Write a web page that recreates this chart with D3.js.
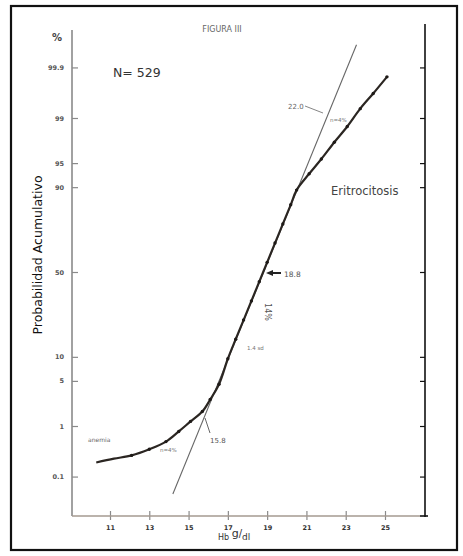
<!DOCTYPE html>
<html><head><meta charset="utf-8">
<script src="https://cdn.jsdelivr.net/npm/d3@7"></script>
<style>body{margin:0;background:#fff}svg{display:block}text{font-family:"DejaVu Sans",sans-serif}</style>
</head><body>
<script>
// ---- data ----
const xTicks = [11, 13, 15, 17, 19, 21, 23, 25];
const yTicks = [99.9, 99, 95, 90, 50, 10, 5, 1, 0.1];
const yTickLabels = ["99.9", "99", "95", "90", "50", "10", "5", "1", "0.1"];
// observed cumulative curve (Hb g/dl, cumulative %)
const curveHb  = [10.3, 11.2, 12.1, 13.0, 13.85, 14.5, 15.1, 15.7, 16.1, 16.55, 17.0, 17.4, 17.8, 18.2, 18.6, 19.0, 19.4, 19.8, 20.2, 20.5, 21.14, 21.76, 22.42, 23.08, 23.74, 24.4, 25.1];
const curvePct = [0.20, 0.24, 0.28, 0.37, 0.52, 0.80, 1.2, 1.75, 2.7, 4.5, 9.5, 15.5, 23.4, 33.1, 44.2, 55.8, 66.9, 76.6, 84.5, 89.2, 93.1, 95.6, 97.5, 98.6, 99.32, 99.65, 99.84];
// fitted normal line (probability paper straight line)
const fitHb  = [14.2, 23.55];
const fitPct = [0.04, 99.97];

// inverse normal CDF (probability-paper axis transform)
function probit(p){
  const a=[-39.69683028665376,220.9460984245205,-275.9285104469687,138.3577518672690,-30.66479806614716,2.506628277459239];
  const b=[-54.47609879822406,161.5858368580409,-155.6989798598866,66.80131188771972,-13.28068155288572];
  const c=[-0.007784894002430293,-0.3223964580411365,-2.400758277161838,-2.549732539343734,4.374664141464968,2.938163982698783];
  const d=[0.007784695709041462,0.3224671290700398,2.445134137142996,3.754408661907416];
  const pl=0.02425;let q,r;
  if(p<pl){q=Math.sqrt(-2*Math.log(p));return(((((c[0]*q+c[1])*q+c[2])*q+c[3])*q+c[4])*q+c[5])/((((d[0]*q+d[1])*q+d[2])*q+d[3])*q+1);}
  if(p>1-pl){q=Math.sqrt(-2*Math.log(1-p));return-(((((c[0]*q+c[1])*q+c[2])*q+c[3])*q+c[4])*q+c[5])/((((d[0]*q+d[1])*q+d[2])*q+d[3])*q+1);}
  q=p-0.5;r=q*q;return(((((a[0]*r+a[1])*r+a[2])*r+a[3])*r+a[4])*r+a[5])*q/(((((b[0]*r+b[1])*r+b[2])*r+b[3])*r+b[4])*r+1);
}

const W=463,H=556;
const svg=d3.select("body").append("svg").attr("width",W).attr("height",H);

// frame
svg.append("rect").attr("x",11).attr("y",6).attr("width",446).attr("height",544)
  .attr("fill","none").attr("stroke","#111").attr("stroke-width",2.2);

const x=d3.scaleLinear().domain([11,25]).range([110,385]);
const zScale=d3.scaleLinear().domain([-3,3]).range([470.6,73.4]);
const y=p=>zScale(probit(p/100));

const axisCol="#8a8a8a";
// left axis
const leftAx=svg.append("g").attr("transform","translate(72,0)");
leftAx.call(d3.axisRight(zScale).tickValues(yTicks.map(p=>probit(p/100))).tickSize(6).tickFormat((d,i)=>yTickLabels[i]));
leftAx.select(".domain").remove();
leftAx.selectAll(".tick line").attr("stroke",axisCol).attr("stroke-width",1.2);
leftAx.selectAll(".tick text").attr("x",-8).attr("text-anchor","end").attr("fill","#555").attr("font-size",6.5).attr("font-weight","bold");
svg.append("line").attr("x1",72).attr("x2",72).attr("y1",30).attr("y2",516).attr("stroke",axisCol).attr("stroke-width",1.6);

// right axis
const rightAx=svg.append("g").attr("transform","translate(425,0)");
rightAx.call(d3.axisLeft(zScale).tickValues(yTicks.map(p=>probit(p/100))).tickSize(5).tickFormat(""));
rightAx.select(".domain").remove();
rightAx.selectAll(".tick line").attr("stroke","#111").attr("stroke-width",1.2);
svg.append("line").attr("x1",425).attr("x2",425).attr("y1",24).attr("y2",517).attr("stroke","#111").attr("stroke-width",1.6);

// bottom axis
const xAx=svg.append("g").attr("transform","translate(0,516)");
xAx.call(d3.axisBottom(x).tickValues(xTicks).tickSize(0).tickPadding(9).tickFormat(d3.format("d")));
xAx.select(".domain").remove();
xAx.selectAll(".tick text").attr("fill","#333").attr("font-size",6.5).attr("font-weight","bold");
xAx.selectAll(".tick").append("line").attr("y1",-5).attr("y2",4).attr("stroke",axisCol).attr("stroke-width",1.2);
svg.append("line").attr("x1",72).attr("x2",420).attr("y1",516).attr("y2",516).attr("stroke","#a59a90").attr("stroke-width",1.6);
svg.append("line").attr("x1",420).attr("x2",428).attr("y1",516).attr("y2",516).attr("stroke","#111").attr("stroke-width",1.6);

// fitted straight line
svg.append("line").attr("x1",x(fitHb[0])).attr("y1",y(fitPct[0])).attr("x2",x(fitHb[1])).attr("y2",y(fitPct[1]))
  .attr("stroke","#666").attr("stroke-width",1.1);

// observed curve
const pts=curveHb.map((h,i)=>[x(h),y(curvePct[i])]);
svg.append("path").attr("d",d3.line().curve(d3.curveCatmullRom)(pts))
  .attr("fill","none").attr("stroke","#2b2622").attr("stroke-width",2.2);
svg.selectAll("circle.m").data(pts.slice(2)).join("circle").attr("class","m")
  .attr("cx",d=>d[0]).attr("cy",d=>d[1]).attr("r",1.7).attr("fill","#1e1a17");

// texts
const t=(s,xx,yy,o={})=>svg.append("text").attr("x",xx).attr("y",yy).text(s)
  .attr("font-size",o.fs||7).attr("fill",o.c||"#555").attr("font-weight",o.fw||"normal").attr("text-anchor",o.a||"start");
t("FIGURA  III",222,32,{fs:8,c:"#666",a:"middle"});
t("%",57,41,{fs:10,c:"#444",fw:"bold",a:"middle"});
t("N= 529",113,77,{fs:12.5,c:"#333"});
t("Eritrocitosis",331,195,{fs:11.5,c:"#444"});
t("18.8",284,277,{fs:7.5,c:"#555"});
t("22.0",288,109,{fs:7,c:"#666"});
t("n=4%",330,122,{fs:5.5,c:"#777"});
t("15.8",210,443,{fs:7,c:"#555"});
t("n=4%",160,452,{fs:5.5,c:"#777"});
t("anemia",88,442,{fs:6,c:"#666"});
t("1.4  sd",247,350,{fs:5.5,c:"#777"});
svg.append("text").attr("transform","translate(265,312) rotate(90)").text("14%")
  .attr("font-size",8).attr("fill","#555").attr("text-anchor","middle");

// arrows / leaders
svg.append("path").attr("d","M266,273 L273,270 L273,276 Z").attr("fill","#222");
svg.append("line").attr("x1",272).attr("x2",281).attr("y1",273).attr("y2",273).attr("stroke","#222").attr("stroke-width",2);
svg.append("line").attr("x1",305).attr("y1",106).attr("x2",323).attr("y2",113).attr("stroke","#777").attr("stroke-width",0.9);
svg.append("line").attr("x1",210).attr("y1",433).attr("x2",205).attr("y2",418).attr("stroke","#555").attr("stroke-width",0.9);

// axis titles
svg.append("text").attr("transform","translate(42,255) rotate(-90)").attr("text-anchor","middle")
  .attr("font-size",12.5).attr("fill","#111").attr("font-weight","500")
  .text("Probabilidad  Acumulativo");
const hb=svg.append("text").attr("x",218).attr("y",540).attr("font-size",8).attr("fill","#333");
hb.append("tspan").text("Hb ");
hb.append("tspan").text("g").attr("font-size",11).attr("dy",-3);
hb.append("tspan").text("/").attr("font-size",10);
hb.append("tspan").text("dl").attr("font-size",9).attr("dy",3);
</script>
</body></html>
